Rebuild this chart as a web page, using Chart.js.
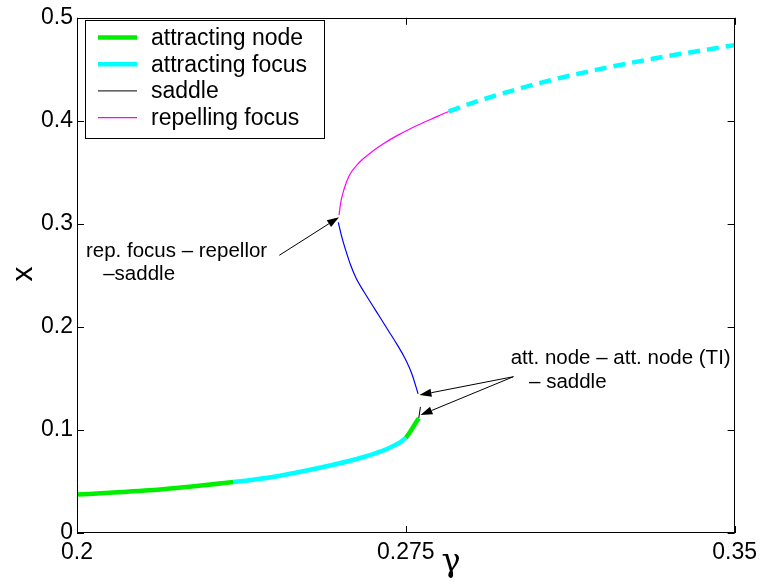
<!DOCTYPE html>
<html>
<head>
<meta charset="utf-8">
<script src="https://cdn.jsdelivr.net/npm/chart.js@4.4.0/dist/chart.umd.min.js"></script>
<style>
  html, body { margin: 0; padding: 0; background: #fff; }
  #wrap { width: 763px; height: 583px; }
</style>
</head>
<body>
<div id="wrap"><canvas id="bif"></canvas></div>
<script>
// lower branch, gamma -> x, with the stability of each piece (piece i runs from point i to i+1)
const lowerGamma = [0.2, 0.2083, 0.21659, 0.2262, 0.23568, 0.24386, 0.25295, 0.26205, 0.26818, 0.27182, 0.275, 0.27727, 0.27795];
const lowerX     = [0.0373, 0.0393, 0.0414, 0.0451, 0.0494, 0.0539, 0.0612, 0.0699, 0.0776, 0.0838, 0.0925, 0.1069, 0.1114];
const lowerType  = ['node', 'node', 'node', 'node', 'focus', 'focus', 'focus', 'focus', 'focus', 'focus', 'node', 'node'];

// short saddle piece at the lower fold
const saddleGamma = [0.27795, 0.27834];
const saddleX     = [0.1114, 0.1224];

// middle branch between the two folds
const middleGamma = [0.2778, 0.27643, 0.27477, 0.27302, 0.27114, 0.26925, 0.26734, 0.26545, 0.2637, 0.26243, 0.26143, 0.26052, 0.25977, 0.25961];
const middleX     = [0.1350, 0.1539, 0.1698, 0.1828, 0.1956, 0.2084, 0.2213, 0.2341, 0.2469, 0.2598, 0.2726, 0.2855, 0.2984, 0.3015];

// upper branch
const upperGamma = [0.25977, 0.26016, 0.26091, 0.26205, 0.26432, 0.26698, 0.26961, 0.27341, 0.2772, 0.28098, 0.28477, 0.3008, 0.31602, 0.33125, 0.35];
const upperX     = [0.3086, 0.3208, 0.3336, 0.3465, 0.3593, 0.369, 0.377, 0.3866, 0.3947, 0.402, 0.4091, 0.4312, 0.4473, 0.4602, 0.4735];
const upperType  = ['repFocus', 'repFocus', 'repFocus', 'repFocus', 'repFocus', 'repFocus', 'repFocus', 'repFocus', 'repFocus', 'repFocus', 'focusDash', 'focusDash', 'focusDash', 'focusDash'];

const xTicks = [0.2, 0.275, 0.35];
const xTickLabels = ['0.2', '0.275', '0.35'];
const yTicks = [0, 0.1, 0.2, 0.3, 0.4, 0.5];
const yTickLabels = ['0', '0.1', '0.2', '0.3', '0.4', '0.5'];

const legendNames = ['attracting node', 'attracting focus', 'saddle', 'repelling focus'];
const legendTypes = ['node', 'focus', 'saddle', 'repFocus'];

// annotation texts, anchored in (gamma, x)
const noteLines = [
  { text: 'rep. focus \u2013 repellor', g: 0.20205, x: 0.2733 },
  { text: '\u2013saddle', g: 0.20598, x: 0.2508 },
  { text: 'att. node \u2013 att. node (TI)', g: 0.29893, x: 0.1693 },
  { text: '\u2013 saddle', g: 0.30311, x: 0.1458 }
];
// arrows: tail -> tip
const arrows = [
  { g0: 0.24614, x0: 0.2695, g1: 0.25977, x1: 0.3064 },
  { g0: 0.29955, x0: 0.1517, g1: 0.27811, x1: 0.1339 },
  { g0: 0.29955, x0: 0.1517, g1: 0.27834, x1: 0.1144 }
];

const styles = {
  node:      { color: '#00ee00', width: 4.5, dash: [] },
  focus:     { color: '#00ffff', width: 4.5, dash: [] },
  focusDash: { color: '#00ffff', width: 4.5, dash: [12, 7] },
  saddle:    { color: '#000000', width: 1, dash: [] },
  repFocus:  { color: '#ff00ff', width: 1.2, dash: [] },
  repellor:  { color: '#0000ff', width: 1.2, dash: [] }
};

const FONT = "'Liberation Sans', Arial, Helvetica, sans-serif";
Chart.defaults.font.family = FONT;
Chart.defaults.color = '#000';

function pts(gs, xs) {
  return gs.map((g, i) => ({ x: g, y: xs[i] }));
}

// one branch drawn as a single smooth line; each piece styled by its type
function branch(label, gs, xs, types) {
  const st = i => styles[types[i]];
  const first = styles[types[0]];
  return {
    label: label,
    data: pts(gs, xs),
    borderColor: first.color,
    borderWidth: first.width,
    borderDash: first.dash,
    borderCapStyle: 'butt',
    showLine: true,
    pointRadius: 0,
    cubicInterpolationMode: 'monotone',
    fill: false,
    segment: {
      borderColor: c => st(c.p0DataIndex).color,
      borderWidth: c => st(c.p0DataIndex).width,
      borderDash: c => st(c.p0DataIndex).dash
    }
  };
}

const datasets = [
  branch('lower', lowerGamma, lowerX, lowerType),
  branch('saddle', saddleGamma, saddleX, ['saddle']),
  branch('middle', middleGamma, middleX, middleGamma.map(() => 'repellor')),
  branch('upper', upperGamma, upperX, upperType)
];

function drawArrow(ctx, x0, y0, x1, y1) {
  const ang = Math.atan2(y1 - y0, x1 - x0);
  const len = 12, half = 4;
  const bx = x1 - len * Math.cos(ang), by = y1 - len * Math.sin(ang);
  ctx.beginPath();
  ctx.moveTo(x0, y0);
  ctx.lineTo(bx, by);
  ctx.stroke();
  ctx.beginPath();
  ctx.moveTo(x1, y1);
  ctx.lineTo(bx - half * Math.sin(ang), by + half * Math.cos(ang));
  ctx.lineTo(bx + half * Math.sin(ang), by - half * Math.cos(ang));
  ctx.closePath();
  ctx.fill();
}

const framePlugin = {
  id: 'frame',
  afterDraw(chart) {
    const { ctx, chartArea: a, scales } = chart;
    const sx = scales.x, sy = scales.y;
    ctx.save();
    ctx.strokeStyle = '#000';
    ctx.fillStyle = '#000';
    ctx.lineWidth = 1;

    // axes box
    ctx.strokeRect(Math.round(a.left) + 0.5, Math.round(a.top) + 0.5,
      Math.round(a.right - a.left) - 1, Math.round(a.bottom - a.top) - 1);

    // inward ticks
    const tl = 7;
    ctx.beginPath();
    yTicks.forEach(v => {
      const py = Math.round(sy.getPixelForValue(v)) + 0.5;
      ctx.moveTo(a.left, py); ctx.lineTo(a.left + tl, py);
      ctx.moveTo(a.right, py); ctx.lineTo(a.right - tl, py);
    });
    xTicks.forEach(v => {
      const px = Math.round(sx.getPixelForValue(v)) + 0.5;
      ctx.moveTo(px, a.bottom); ctx.lineTo(px, a.bottom - tl);
      ctx.moveTo(px, a.top); ctx.lineTo(px, a.top + tl);
    });
    ctx.stroke();

    // axis titles
    ctx.textAlign = 'center';
    ctx.textBaseline = 'alphabetic';
    ctx.font = "32px 'DejaVu Serif', serif";
    ctx.fillText('\u03b3', 451, 571);
    ctx.textBaseline = 'middle';
    ctx.save();
    ctx.translate(24, 274);
    ctx.rotate(-Math.PI / 2);
    ctx.font = '30px ' + FONT;
    ctx.fillText('x', 0, 0);
    ctx.restore();

    // annotations
    ctx.font = '20.5px ' + FONT;
    ctx.textAlign = 'left';
    noteLines.forEach(n => {
      ctx.fillText(n.text, sx.getPixelForValue(n.g), sy.getPixelForValue(n.x));
    });
    arrows.forEach(r => {
      drawArrow(ctx,
        sx.getPixelForValue(r.g0), sy.getPixelForValue(r.x0),
        sx.getPixelForValue(r.g1), sy.getPixelForValue(r.x1));
    });

    // legend box
    const lx = 85.5, ly = 20.5, lw = 239, lh = 118;
    ctx.fillStyle = '#fff';
    ctx.fillRect(lx, ly, lw, lh);
    ctx.strokeRect(lx, ly, lw, lh);
    ctx.font = '23px ' + FONT;
    legendNames.forEach((name, i) => {
      const s = styles[legendTypes[i]];
      const ry = 37.5 + i * 26.7;
      ctx.strokeStyle = s.color;
      ctx.lineWidth = s.width;
      ctx.beginPath();
      ctx.moveTo(98, ry); ctx.lineTo(137, ry);
      ctx.stroke();
      ctx.fillStyle = '#000';
      ctx.fillText(name, 151, ry + 1);
    });
    ctx.restore();
  }
};

new Chart(document.getElementById('bif'), {
  type: 'scatter',
  data: { datasets: datasets },
  options: {
    responsive: true,
    maintainAspectRatio: false,
    animation: false,
    layout: { padding: { left: 0, right: 26, top: 14, bottom: 0 } },
    plugins: { legend: { display: false }, tooltip: { enabled: false } },
    scales: {
      x: {
        type: 'linear',
        min: 0.2,
        max: 0.35,
        grid: { display: false, drawTicks: false },
        border: { display: false },
        afterBuildTicks: s => { s.ticks = xTicks.map(v => ({ value: v })); },
        afterFit: s => { s.height = 50; },
        ticks: {
          autoSkip: false,
          maxRotation: 0,
          padding: 6,
          font: { size: 23 },
          callback: v => xTickLabels[xTicks.indexOf(v)]
        }
      },
      y: {
        min: 0,
        max: 0.5,
        grid: { display: false, drawTicks: false },
        border: { display: false },
        afterBuildTicks: s => { s.ticks = yTicks.map(v => ({ value: v })); },
        afterFit: s => { s.width = 77; },
        ticks: {
          padding: 4,
          font: { size: 23 },
          callback: v => yTickLabels[yTicks.indexOf(v)]
        }
      }
    }
  },
  plugins: [framePlugin]
});
</script>
</body>
</html>
